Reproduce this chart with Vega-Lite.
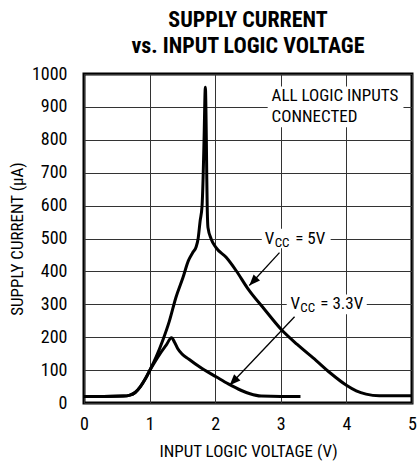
{
  "$schema": "https://vega.github.io/schema/vega-lite/v6.json",
  "width": 328,
  "height": 329,
  "autosize": {"type": "none"},
  "padding": {"left": 84, "top": 74, "right": 7, "bottom": 59},
  "background": "white",
  "config": {
    "font": "Roboto Condensed, Roboto, sans-serif",
    "view": {"stroke": "black", "strokeWidth": 3},
    "axis": {
      "grid": true, "gridColor": "#333", "gridWidth": 1, "gridOpacity": 1,
      "domain": false, "ticks": false,
      "labelFont": "Roboto Condensed, Roboto, sans-serif",
      "titleFont": "Roboto Condensed, Roboto, sans-serif",
      "labelFontSize": 18, "labelColor": "black",
      "titleFontSize": 17, "titleFontWeight": "normal", "titleColor": "black",
      "labelFlush": false, "labelOverlap": false
    },
    "text": {"font": "Roboto Condensed, Roboto, sans-serif"}
  },
  "title": {
    "text": ["SUPPLY CURRENT", "vs. INPUT LOGIC VOLTAGE"],
    "font": "Roboto Condensed, Roboto, sans-serif",
    "fontSize": 22, "fontWeight": "bold", "color": "black",
    "anchor": "middle", "offset": 7, "lineHeight": 26
  },
  "datasets": {
    "curves": [
      {"x": 0, "y": 20, "s": "5V"}, {"x": 0.3, "y": 20, "s": "5V"}, {"x": 0.6, "y": 21, "s": "5V"},
      {"x": 0.7, "y": 24, "s": "5V"}, {"x": 0.78, "y": 32, "s": "5V"}, {"x": 0.86, "y": 50, "s": "5V"},
      {"x": 0.94, "y": 75, "s": "5V"}, {"x": 1.0, "y": 98, "s": "5V"}, {"x": 1.1, "y": 140, "s": "5V"},
      {"x": 1.2, "y": 190, "s": "5V"}, {"x": 1.3, "y": 248, "s": "5V"}, {"x": 1.4, "y": 320, "s": "5V"},
      {"x": 1.51, "y": 382, "s": "5V"}, {"x": 1.59, "y": 432, "s": "5V"}, {"x": 1.66, "y": 458, "s": "5V"},
      {"x": 1.71, "y": 475, "s": "5V"}, {"x": 1.74, "y": 500, "s": "5V"}, {"x": 1.77, "y": 553, "s": "5V"},
      {"x": 1.8, "y": 600, "s": "5V"}, {"x": 1.815, "y": 680, "s": "5V"}, {"x": 1.83, "y": 800, "s": "5V"},
      {"x": 1.85, "y": 960, "s": "5V"}, {"x": 1.865, "y": 800, "s": "5V"}, {"x": 1.872, "y": 680, "s": "5V"},
      {"x": 1.878, "y": 600, "s": "5V"}, {"x": 1.89, "y": 533, "s": "5V"}, {"x": 1.94, "y": 498, "s": "5V"},
      {"x": 2.01, "y": 473, "s": "5V"}, {"x": 2.17, "y": 442, "s": "5V"}, {"x": 2.32, "y": 402, "s": "5V"},
      {"x": 2.5, "y": 347, "s": "5V"}, {"x": 2.75, "y": 285, "s": "5V"}, {"x": 3.0, "y": 225, "s": "5V"},
      {"x": 3.25, "y": 178, "s": "5V"}, {"x": 3.54, "y": 129, "s": "5V"}, {"x": 3.75, "y": 92, "s": "5V"},
      {"x": 4.0, "y": 54, "s": "5V"}, {"x": 4.15, "y": 37, "s": "5V"}, {"x": 4.3, "y": 27, "s": "5V"},
      {"x": 4.5, "y": 22, "s": "5V"}, {"x": 5.0, "y": 22, "s": "5V"},
      {"x": 0, "y": 20, "s": "3.3V"}, {"x": 0.3, "y": 20, "s": "3.3V"}, {"x": 0.6, "y": 21, "s": "3.3V"},
      {"x": 0.7, "y": 24, "s": "3.3V"}, {"x": 0.78, "y": 32, "s": "3.3V"}, {"x": 0.86, "y": 50, "s": "3.3V"},
      {"x": 0.94, "y": 75, "s": "3.3V"}, {"x": 1.0, "y": 98, "s": "3.3V"}, {"x": 1.08, "y": 125, "s": "3.3V"},
      {"x": 1.16, "y": 150, "s": "3.3V"}, {"x": 1.25, "y": 175, "s": "3.3V"}, {"x": 1.335, "y": 198, "s": "3.3V"},
      {"x": 1.38, "y": 185, "s": "3.3V"}, {"x": 1.43, "y": 165, "s": "3.3V"}, {"x": 1.49, "y": 150, "s": "3.3V"},
      {"x": 1.6, "y": 133, "s": "3.3V"}, {"x": 1.76, "y": 110, "s": "3.3V"}, {"x": 2.02, "y": 79, "s": "3.3V"},
      {"x": 2.2, "y": 58, "s": "3.3V"}, {"x": 2.4, "y": 38, "s": "3.3V"}, {"x": 2.53, "y": 28, "s": "3.3V"},
      {"x": 2.7, "y": 21, "s": "3.3V"}, {"x": 3.0, "y": 20, "s": "3.3V"}, {"x": 3.3, "y": 20, "s": "3.3V"}
    ],
    "boxes": [
      {"x": 2.8, "x2": 4.87, "y": 838, "y2": 962},
      {"x": 2.71, "x2": 3.76, "y": 470, "y2": 530},
      {"x": 3.09, "x2": 4.31, "y": 270, "y2": 330}
    ],
    "arrows": [
      {"x": 2.98, "y": 457, "x2": 2.52, "y2": 357},
      {"x": 3.21, "y": 262, "x2": 2.22, "y2": 54}
    ],
    "tip5": [{"x": 2.52, "y": 357}],
    "tip33": [{"x": 2.22, "y": 54}],
    "labels": [
      {"x": 2.86, "y": 934, "t": "ALL LOGIC INPUTS"},
      {"x": 2.86, "y": 868, "t": "CONNECTED"},
      {"x": 2.755, "y": 500, "t": "V"},
      {"x": 3.22, "y": 500, "t": "= 5V"},
      {"x": 3.146, "y": 300, "t": "V"},
      {"x": 3.603, "y": 300, "t": "= 3.3V"}
    ],
    "subs": [
      {"x": 2.907, "y": 500, "t": "CC"},
      {"x": 3.298, "y": 300, "t": "CC"}
    ]
  },
  "encoding": {
    "x": {
      "field": "x", "type": "quantitative",
      "scale": {"domain": [0, 5], "nice": false, "zero": false},
      "axis": {"values": [0, 1, 2, 3, 4, 5], "format": "d", "labelPadding": 12, "titlePadding": 10, "title": "INPUT LOGIC VOLTAGE (V)"}
    },
    "y": {
      "field": "y", "type": "quantitative",
      "scale": {"domain": [0, 1000], "nice": false},
      "axis": {"values": [0, 100, 200, 300, 400, 500, 600, 700, 800, 900, 1000], "format": "d", "labelPadding": 17, "titlePadding": 5, "title": "SUPPLY CURRENT (µA)"}
    }
  },
  "layer": [
    {
      "data": {"name": "boxes"},
      "mark": {"type": "rect", "fill": "white", "stroke": null},
      "encoding": {"x2": {"field": "x2"}, "y2": {"field": "y2"}}
    },
    {
      "data": {"name": "curves"},
      "mark": {"type": "line", "color": "black", "strokeWidth": 3, "interpolate": "monotone", "strokeJoin": "round"},
      "encoding": {"detail": {"field": "s", "type": "nominal"}}
    },
    {
      "data": {"name": "arrows"},
      "mark": {"type": "rule", "color": "black", "strokeWidth": 1.3},
      "encoding": {"x2": {"field": "x2"}, "y2": {"field": "y2"}}
    },
    {
      "data": {"name": "tip5"},
      "mark": {"type": "point", "shape": "M0,0L-0.4,1L0.4,1Z", "filled": true, "color": "black", "opacity": 1, "size": 484, "angle": 223}
    },
    {
      "data": {"name": "tip33"},
      "mark": {"type": "point", "shape": "M0,0L-0.4,1L0.4,1Z", "filled": true, "color": "black", "opacity": 1, "size": 484, "angle": 224}
    },
    {
      "data": {"name": "labels"},
      "mark": {"type": "text", "align": "left", "baseline": "middle", "fontSize": 17, "color": "black"},
      "encoding": {"text": {"field": "t"}}
    },
    {
      "data": {"name": "subs"},
      "mark": {"type": "text", "align": "left", "baseline": "middle", "fontSize": 13, "dy": 4, "color": "black"},
      "encoding": {"text": {"field": "t"}}
    }
  ]
}
